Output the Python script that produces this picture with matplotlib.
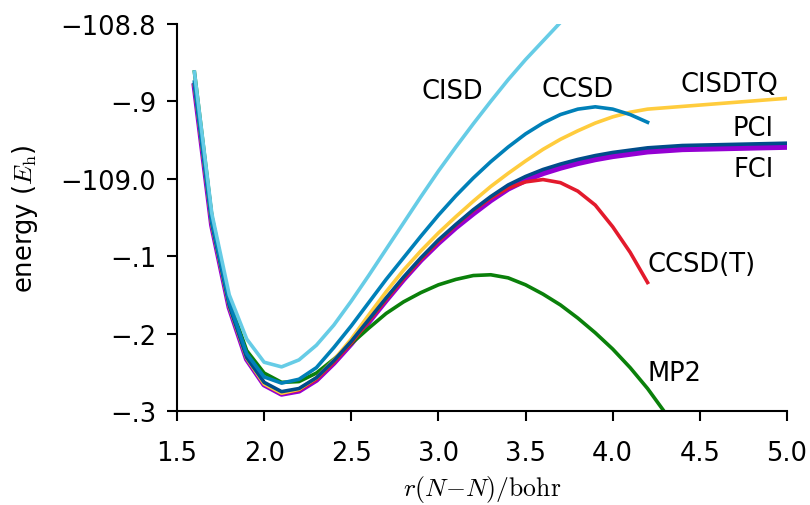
import matplotlib
matplotlib.use("Agg")
import matplotlib.pyplot as plt
import numpy as np

plt.rcParams["font.family"] = "DejaVu Sans"
plt.rcParams["mathtext.fontset"] = "cm"
plt.rcParams["font.size"] = 18.5

# bond length grid (bohr)
r = [1.6, 1.7, 1.8, 1.9, 2.0, 2.1, 2.2, 2.3, 2.4, 2.5, 2.6, 2.7, 2.8, 2.9,
     3.0, 3.1, 3.2, 3.3, 3.4, 3.5, 3.6, 3.7, 3.8, 3.9, 4.0, 4.1, 4.2]
r_tail = [4.4, 4.6, 4.8, 5.0]
r_cisd = r[:23]
r_mp2 = r + [4.3, 4.4]

fci = [-108.880, -109.060, -109.166, -109.233, -109.266, -109.278, -109.274,
       -109.260, -109.238, -109.213, -109.185, -109.157, -109.130, -109.105,
       -109.083, -109.063, -109.045, -109.028, -109.013, -109.002, -108.993,
       -108.986, -108.980, -108.975, -108.971, -108.968, -108.965]
fci_tail = [-108.962, -108.961, -108.960, -108.959]

pci = [-108.878, -109.058, -109.164, -109.231, -109.263, -109.275, -109.271,
       -109.257, -109.235, -109.210, -109.182, -109.154, -109.127, -109.102,
       -109.079, -109.059, -109.040, -109.023, -109.008, -108.997, -108.988,
       -108.981, -108.975, -108.970, -108.966, -108.963, -108.960]
pci_tail = [-108.957, -108.956, -108.955, -108.954]

cisdtq = [-108.879, -109.059, -109.165, -109.232, -109.265, -109.277, -109.272,
          -109.257, -109.234, -109.207, -109.176, -109.146, -109.118, -109.093,
          -109.070, -109.049, -109.029, -109.010, -108.993, -108.977, -108.962,
          -108.949, -108.938, -108.928, -108.920, -108.914, -108.910]
cisdtq_end = -108.896

ccsd = [-108.875, -109.055, -109.160, -109.226, -109.256, -109.264, -109.259,
        -109.244, -109.218, -109.190, -109.160, -109.130, -109.102, -109.074,
        -109.047, -109.022, -108.999, -108.978, -108.959, -108.942, -108.928,
        -108.917, -108.910, -108.907, -108.910, -108.917, -108.927]

cisd = [-108.862, -109.045, -109.150, -109.207, -109.237, -109.243, -109.234,
        -109.215, -109.189, -109.158, -109.125, -109.091, -109.057, -109.023,
        -108.990, -108.959, -108.929, -108.900, -108.872, -108.846, -108.822,
        -108.798, -108.775]

ccsd_t = [-108.879, -109.059, -109.165, -109.232, -109.265, -109.277, -109.273,
          -109.259, -109.237, -109.212, -109.184, -109.156, -109.129, -109.104,
          -109.081, -109.060, -109.041, -109.025, -109.012, -109.004, -109.001,
          -109.005, -109.016, -109.034, -109.062, -109.095, -109.134]

mp2 = [-108.862, -109.048, -109.158, -109.222, -109.251, -109.263, -109.262,
       -109.251, -109.233, -109.213, -109.193, -109.174, -109.159, -109.147,
       -109.137, -109.130, -109.125, -109.124, -109.128, -109.137, -109.149,
       -109.163, -109.180, -109.199, -109.220, -109.244, -109.271, -109.302,
       -109.335]

fig = plt.figure(figsize=(8.1, 5.06), dpi=100)
ax = fig.add_axes([0.2185, 0.1858, 0.7531, 0.7648])

ax.plot(r + r_tail, fci + fci_tail, color="#9400D3", lw=4.0)
ax.plot(r_mp2, mp2, color="#0A800A", lw=2.6)
ax.plot(r, ccsd_t, color="#E31A2C", lw=2.6)
ax.plot(r + [5.0], cisdtq + [cisdtq_end], color="#FFCC3D", lw=2.6)
ax.plot(r + r_tail, pci + pci_tail, color="#004C8A", lw=2.6)
ax.plot(r, ccsd, color="#0080B8", lw=2.6)
ax.plot(r_cisd, cisd, color="#66CCE6", lw=2.6)

ax.text(3.08, -108.887, "CISD", ha="center", va="center")
ax.text(3.80, -108.884, "CCSD", ha="center", va="center")
ax.text(4.95, -108.878, "CISDTQ", ha="right", va="center")
ax.text(4.925, -108.934, "PCI", ha="right", va="center")
ax.text(4.925, -108.987, "FCI", ha="right", va="center")
ax.text(4.20, -109.110, "CCSD(T)", ha="left", va="center")
ax.text(4.20, -109.251, "MP2", ha="left", va="center")

ax.set_xlim(1.5, 5.0)
ax.set_ylim(-109.3, -108.8)
ax.set_xticks(np.arange(1.5, 5.01, 0.5))
ax.set_xticklabels(["1.5", "2.0", "2.5", "3.0", "3.5", "4.0", "4.5", "5.0"])
ax.set_yticks([-109.3, -109.2, -109.1, -109.0, -108.9, -108.8])
ax.set_yticklabels(["\u2212.3", "\u2212.2", "\u2212.1", "\u2212109.0",
                    "\u2212.9", "\u2212108.8"])

for s in ["top", "right"]:
    ax.spines[s].set_visible(False)
for s in ["left", "bottom"]:
    ax.spines[s].set_linewidth(1.5)
ax.tick_params(direction="out", length=7, width=1.5)
ax.tick_params(axis="x", pad=14)
ax.tick_params(axis="y", pad=8)

ax.set_xlabel(r"$r(N{-}N)/\mathrm{bohr}$")
ax.xaxis.set_label_coords(0.5, -0.16)
ax.set_ylabel(r"energy ($E_\mathrm{h}$)")
ax.yaxis.set_label_coords(-0.225, 0.5)

fig.savefig("out.png", dpi=100)
